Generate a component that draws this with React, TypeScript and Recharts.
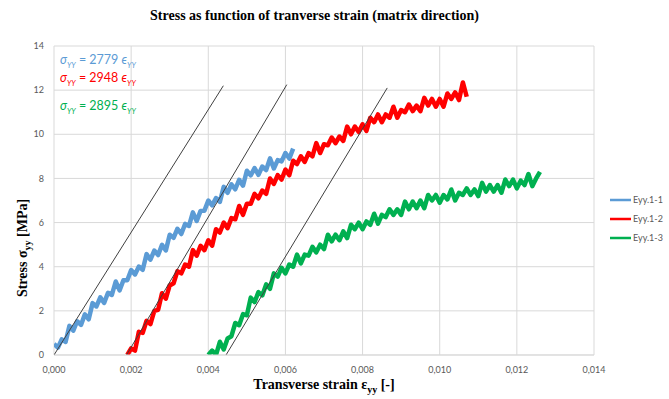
import React from "react";
import { LineChart, Line, XAxis, YAxis, CartesianGrid } from "recharts";

// Sampling step of the recorded strain signal
const STRAIN_STEP = 0.0001;

// Specimen Eyy.1-1 : stress [MPa], first sample at strain 0.0000
const blueStart = 0.0;
const blueStress = [
  0.5, 0.33, 0.71, 0.59, 1.32, 1.1, 1.53, 1.36, 1.84, 1.62, 2.35, 2.2, 2.61, 2.36, 2.82,
  2.72, 3.33, 2.93, 3.39, 3.39, 3.85, 3.65, 4.01, 3.86, 4.57, 4.32, 4.73, 4.53, 4.99,
  4.74, 5.45, 5.31, 5.72, 5.48, 5.94, 5.85, 6.46, 6.07, 6.53, 6.54, 7.0, 6.78, 7.11,
  6.94, 7.62, 7.35, 7.73, 7.51, 7.94, 7.67, 8.35, 8.14, 8.47, 8.16, 8.54, 8.38, 8.91,
  8.45, 8.83, 8.77, 9.15, 8.9, 9.35,
];

// Specimen Eyy.1-2 : first sample at strain 0.0019
const redStart = 0.0019;
const redStress = [
  0.0, 0.3, 0.2, 1.05, 1.0, 1.55, 1.4, 2.0, 2.05, 2.8, 2.55, 3.15, 3.25, 3.8, 3.7, 4.1,
  4.0, 4.75, 4.5, 4.95, 4.75, 5.2, 4.95, 5.7, 5.55, 6.0, 5.75, 6.2, 6.15, 6.75, 6.35,
  6.85, 6.85, 7.3, 7.1, 7.45, 7.3, 8.0, 7.75, 8.15, 7.95, 8.4, 8.15, 8.8, 8.65, 9.0,
  8.75, 9.15, 9.0, 9.6, 9.15, 9.55, 9.5, 9.85, 9.6, 9.9, 9.7, 10.35, 10.0, 10.35,
  10.1, 10.45, 10.15, 10.75, 10.55, 10.9, 10.55, 10.9, 10.75, 11.25, 10.75, 11.1,
  11.0, 11.35, 11.05, 11.3, 11.05, 11.65, 11.3, 11.6, 11.25, 11.6, 11.25, 11.85, 11.6,
  11.9, 11.55, 12.35, 11.7,
];

// Specimen Eyy.1-3 : first sample at strain 0.0040
const greenStart = 0.004;
const greenStress = [
  0.0, 0.2, 0.0, 0.6, 0.25, 0.75, 0.85, 1.45, 1.35, 1.85, 1.8, 2.6, 2.4, 2.85, 2.7, 3.2,
  3.0, 3.7, 3.55, 3.95, 3.7, 4.1, 4.0, 4.55, 4.15, 4.55, 4.5, 4.9, 4.65, 5.0, 4.8, 5.45,
  5.15, 5.45, 5.2, 5.6, 5.3, 5.9, 5.7, 6.0, 5.7, 6.05, 5.9, 6.4, 5.95, 6.35, 6.25, 6.6,
  6.35, 6.6, 6.35, 6.95, 6.6, 6.95, 6.65, 7.0, 6.65, 7.25, 7.0, 7.25, 6.9, 7.25, 7.05,
  7.5, 7.0, 7.35, 7.25, 7.55, 7.25, 7.5, 7.2, 7.8, 7.4, 7.7, 7.4, 7.7, 7.35, 7.95, 7.65,
  7.95, 7.55, 7.9, 7.7, 8.2, 7.65, 8.0, 8.3,
];

// Linear fits of the elastic part: modulus [MPa], strain offset, upper stress of the drawn segment
const fitModulus = [2779, 2948, 2895];
const fitOffset = [0.0, 0.00188, 0.00446];
const fitTopStress = [12.2, 12.25, 12.1];

const seriesNames = ["Eyy.1-1", "Eyy.1-2", "Eyy.1-3"];
const seriesColors = ["#5B9BD5", "#FF0000", "#00B050"];

const xTicks = [0, 0.002, 0.004, 0.006, 0.008, 0.01, 0.012, 0.014];
const yTicks = [0, 2, 4, 6, 8, 10, 12, 14];

const toPoints = (start: number, values: number[]) => {
  const startIdx = Math.round(start / STRAIN_STEP);
  return values.map((stress, i) => ({
    strain: +((startIdx + i) * STRAIN_STEP).toFixed(5),
    stress,
  }));
};

const measured = [
  toPoints(blueStart, blueStress),
  toPoints(redStart, redStress),
  toPoints(greenStart, greenStress),
];

const fits = fitModulus.map((E, i) => [
  { strain: fitOffset[i], stress: 0 },
  { strain: fitOffset[i] + fitTopStress[i] / E, stress: fitTopStress[i] },
]);

const tickStyle = { fontFamily: "Lato, 'Liberation Sans', sans-serif", fontSize: 9, fill: "#595959" };
const serif = "'Liberation Serif', 'DejaVu Serif', serif";
const eqFont = "Lato, 'Open Sans', sans-serif";

const Equation = ({ modulus, color, top }: { modulus: number; color: string; top: number }) => (
  <div
    style={{
      position: "absolute",
      left: 60,
      top,
      color,
      fontFamily: eqFont,
      fontSize: 12.5,
      lineHeight: "16px",
      whiteSpace: "nowrap",
    }}
  >
    <i>σ</i>
    <sub style={{ fontSize: 7.5, fontStyle: "italic" }}>YY</sub> = {modulus} <i>ϵ</i>
    <sub style={{ fontSize: 7.5, fontStyle: "italic" }}>YY</sub>
  </div>
);

export default function App() {
  return (
    <div style={{ position: "absolute", left: 0, top: 0, width: 669, height: 399, background: "#fff" }}>
      <LineChart width={669} height={399} margin={{ top: 46, right: 75, bottom: 14, left: 14 }}>
        <CartesianGrid stroke="#d9d9d9" strokeWidth={1} />
        <XAxis
          dataKey="strain"
          type="number"
          domain={[0, 0.014]}
          ticks={xTicks}
          tickFormatter={(v: number) => v.toFixed(3).replace(".", ",")}
          tick={tickStyle}
          tickLine={false}
          axisLine={{ stroke: "#d9d9d9" }}
          tickMargin={6}
          height={30}
          allowDataOverflow
        />
        <YAxis
          dataKey="stress"
          type="number"
          domain={[0, 14]}
          ticks={yTicks}
          tick={tickStyle}
          tickLine={false}
          axisLine={false}
          tickMargin={4}
          width={40}
          allowDataOverflow
        />
        {measured.map((pts, i) => (
          <Line
            key={seriesNames[i]}
            data={pts}
            dataKey="stress"
            name={seriesNames[i]}
            stroke={seriesColors[i]}
            strokeWidth={4.5}
            strokeLinejoin="round"
            dot={false}
            isAnimationActive={false}
          />
        ))}
        {fits.map((pts, i) => (
          <Line
            key={"fit" + i}
            data={pts}
            dataKey="stress"
            stroke="#404040"
            strokeWidth={1}
            dot={false}
            isAnimationActive={false}
          />
        ))}
      </LineChart>

      <div
        style={{
          position: "absolute",
          left: 0,
          width: 629,
          top: 8,
          textAlign: "center",
          fontFamily: serif,
          fontWeight: "bold",
          fontSize: 14,
        }}
      >
        Stress as function of tranverse strain (matrix direction)
      </div>

      <div
        style={{
          position: "absolute",
          left: 0,
          width: 648,
          top: 377,
          textAlign: "center",
          fontFamily: serif,
          fontWeight: "bold",
          fontSize: 14,
        }}
      >
        Transverse strain ε<sub style={{ fontSize: 10 }}>yy</sub> [-]
      </div>

      <div
        style={{
          position: "absolute",
          left: 24,
          top: 248,
          transform: "translate(-50%, -50%) rotate(-90deg)",
          fontFamily: serif,
          fontWeight: "bold",
          fontSize: 14,
          whiteSpace: "nowrap",
        }}
      >
        Stress σ<sub style={{ fontSize: 10 }}>yy</sub> [MPa]
      </div>

      <Equation modulus={fitModulus[0]} color={seriesColors[0]} top={52} />
      <Equation modulus={fitModulus[1]} color={seriesColors[1]} top={70} />
      <Equation modulus={fitModulus[2]} color={seriesColors[2]} top={98} />

      <div style={{ position: "absolute", left: 610, top: 190 }}>
        {seriesNames.map((n, i) => (
          <div
            key={n}
            style={{ display: "flex", alignItems: "center", height: 19, fontFamily: tickStyle.fontFamily, fontSize: 9, color: "#595959" }}
          >
            <svg width={21} height={4} style={{ marginRight: 2 }}>
              <line x1={0} y1={2} x2={21} y2={2} stroke={seriesColors[i]} strokeWidth={2.5} />
            </svg>
            {n}
          </div>
        ))}
      </div>
    </div>
  );
}
